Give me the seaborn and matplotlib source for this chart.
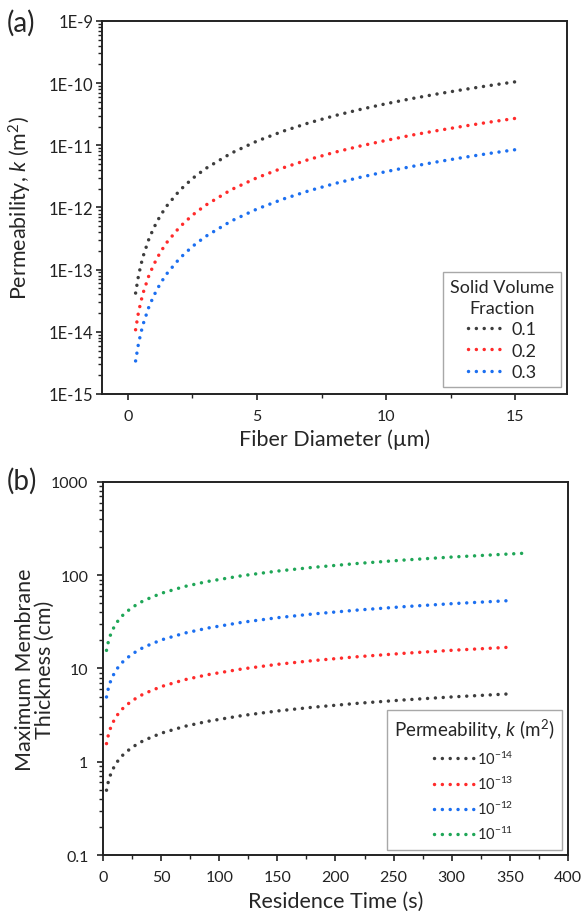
import numpy as np
import pandas as pd
import matplotlib
matplotlib.use('Agg')
import matplotlib.pyplot as plt
import seaborn as sns
from matplotlib.ticker import FuncFormatter, LogLocator, MultipleLocator

# ---- panel (a): permeability vs fiber diameter ----
diameter = [0.3, 0.4, 0.5, 0.6, 0.8, 1.0, 1.25, 1.5, 2, 2.5, 3, 4, 5, 6, 7, 8, 9, 10, 11, 12, 13, 14, 15]
k_01 = [4.20e-14, 7.47e-14, 1.17e-13, 1.68e-13, 2.99e-13, 4.67e-13, 7.30e-13, 1.05e-12, 1.87e-12, 2.92e-12,
        4.20e-12, 7.47e-12, 1.17e-11, 1.68e-11, 2.29e-11, 2.99e-11, 3.78e-11, 4.67e-11, 5.65e-11, 6.72e-11,
        7.89e-11, 9.15e-11, 1.05e-10]
k_02 = [1.08e-14, 1.93e-14, 3.01e-14, 4.33e-14, 7.71e-14, 1.20e-13, 1.88e-13, 2.71e-13, 4.82e-13, 7.53e-13,
        1.08e-12, 1.93e-12, 3.01e-12, 4.33e-12, 5.90e-12, 7.71e-12, 9.75e-12, 1.20e-11, 1.46e-11, 1.73e-11,
        2.03e-11, 2.36e-11, 2.71e-11]
k_03 = [3.40e-15, 6.05e-15, 9.45e-15, 1.36e-14, 2.42e-14, 3.78e-14, 5.91e-14, 8.51e-14, 1.51e-13, 2.36e-13,
        3.40e-13, 6.05e-13, 9.45e-13, 1.36e-12, 1.85e-12, 2.42e-12, 3.06e-12, 3.78e-12, 4.57e-12, 5.44e-12,
        6.39e-12, 7.41e-12, 8.50e-12]
fractions = ['0.1', '0.2', '0.3']

# ---- panel (b): membrane thickness vs residence time ----
res_time = [3, 4, 5, 6.5, 8, 10, 12, 15, 18, 25, 35, 50, 70, 90, 120, 150, 180, 220, 260, 300, 353]
thick_14 = [0.495, 0.572, 0.639, 0.729, 0.809, 0.904, 0.991, 1.108, 1.213, 1.430, 1.692, 2.022, 2.393, 2.713,
            3.133, 3.503, 3.837, 4.242, 4.612, 4.954, 5.370]
thick_13 = [1.565, 1.808, 2.020, 2.305, 2.558, 2.859, 3.134, 3.504, 3.836, 4.522, 5.350, 6.394, 7.567, 8.579,
            9.907, 11.08, 12.13, 13.41, 14.58, 15.67, 16.99]
thick_12 = [4.95, 5.72, 6.39, 7.29, 8.09, 9.04, 9.91, 11.08, 12.13, 14.30, 16.92, 20.22, 23.93, 27.13,
            31.33, 35.03, 38.37, 42.42, 46.12, 49.54, 53.73]
time_green = res_time + [362]
thick_11 = [15.65, 18.08, 20.20, 23.05, 25.58, 28.59, 31.34, 35.04, 38.36, 45.22, 53.50, 63.94, 75.67, 85.79,
            99.07, 110.8, 121.3, 134.1, 145.8, 156.7, 169.9, 172.1]
perm_labels = ['10$^{-14}$', '10$^{-13}$', '10$^{-12}$', '10$^{-11}$']

gray, red, blue, green = '#3d3d3d', '#ff2b2b', '#1c6ff0', '#1fa657'

sns.set_style('ticks')
plt.rcParams['font.family'] = ['Lato', 'DejaVu Sans']
plt.rcParams['mathtext.fontset'] = 'custom'
plt.rcParams['mathtext.rm'] = 'Lato'
plt.rcParams['mathtext.it'] = 'Lato:italic'

fig = plt.figure(figsize=(5.84, 9.12), dpi=100)
ax1 = fig.add_axes([0.1747, 0.5669, 0.796, 0.409])
ax2 = fig.add_axes([0.1764, 0.0614, 0.796, 0.409])

dot = dict(linestyle=(0, (0.01, 2.25)), dash_capstyle='round', linewidth=2.5)

for y, c, lab in zip([k_01, k_02, k_03], [gray, red, blue], fractions):
    sns.lineplot(x=diameter, y=y, ax=ax1, color=c, label=lab, **dot)

series_b = [(res_time, thick_14), (res_time, thick_13), (res_time, thick_12), (time_green, thick_11)]
for (x, y), c, lab in zip(series_b, [gray, red, blue, green], perm_labels):
    sns.lineplot(x=x, y=y, ax=ax2, color=c, label=lab, **dot)

for ax in (ax1, ax2):
    ax.set_yscale('log')
    for s in ax.spines.values():
        s.set_linewidth(1.4)
        s.set_color('#222222')
        s.set_visible(True)
    ax.yaxis.set_minor_locator(LogLocator(base=10, subs=np.arange(2, 10)))
    ax.tick_params(which='major', direction='out', length=4.5, width=1.2, labelsize=11.5, pad=6,
                   top=False, right=False, colors='#222222')
    ax.tick_params(which='minor', direction='out', length=2.6, width=1.0, top=False, right=False,
                   colors='#222222')

ax1.set_xlim(-1, 17)
ax1.set_ylim(1e-15, 1e-9)
ax1.set_xticks([0, 5, 10, 15])
ax1.xaxis.set_minor_locator(MultipleLocator(2.5))
ax1.yaxis.set_major_formatter(FuncFormatter(lambda v, p: '1E%d' % int(round(np.log10(v)))))
ax1.tick_params(axis='y', which='major', labelsize=12, pad=1.5)
ax1.set_xlabel('Fiber Diameter (µm)', fontsize=15.5)
ax1.set_ylabel('Permeability, $k$ (m$^2$)', fontsize=15.5)
ax1.xaxis.set_label_coords(0.5, -0.091)
ax1.yaxis.set_label_coords(-0.146, 0.5)
leg1 = ax1.legend(title='Solid Volume\nFraction', loc='lower right', bbox_to_anchor=(0.988, 0.018),
                  borderaxespad=0, fontsize=13, title_fontsize=13, handlelength=2.05,
                  labelspacing=0.3, fancybox=False, framealpha=1, edgecolor='#a8a8a8',
                  alignment='center', borderpad=0.4, handletextpad=0.35)
leg1.get_title().set_multialignment('center')
leg1.get_title().set_linespacing(1.35)
leg1.get_frame().set_linewidth(1.0)

ax2.set_xlim(0, 400)
ax2.set_ylim(0.1, 1000)
ax2.set_xticks(np.arange(0, 401, 50))
ax2.xaxis.set_minor_locator(MultipleLocator(25))
ax2.yaxis.set_major_formatter(FuncFormatter(lambda v, p: '%g' % v))
ax2.set_xlabel('Residence Time (s)', fontsize=15.5)
ax2.set_ylabel('Maximum Membrane\nThickness (cm)', fontsize=15.5, linespacing=1.0)
ax2.xaxis.set_label_coords(0.5, -0.097)
ax2.yaxis.set_label_coords(-0.103, 0.5)
leg2 = ax2.legend(title='Permeability, $k$ (m$^2$)', loc='lower right', bbox_to_anchor=(0.987, 0.014),
                  borderaxespad=0, fontsize=10.5, title_fontsize=13.5, handlelength=2.75,
                  labelspacing=0.55, fancybox=False, framealpha=1, edgecolor='#a8a8a8',
                  alignment='center', borderpad=0.5, handletextpad=0.2)
leg2.get_frame().set_linewidth(1.0)

fig.text(0.012, 0.974, '(a)', fontsize=20, va='center', ha='left')
fig.text(0.012, 0.472, '(b)', fontsize=20, va='center', ha='left')

fig.savefig('out.png', dpi=100)
